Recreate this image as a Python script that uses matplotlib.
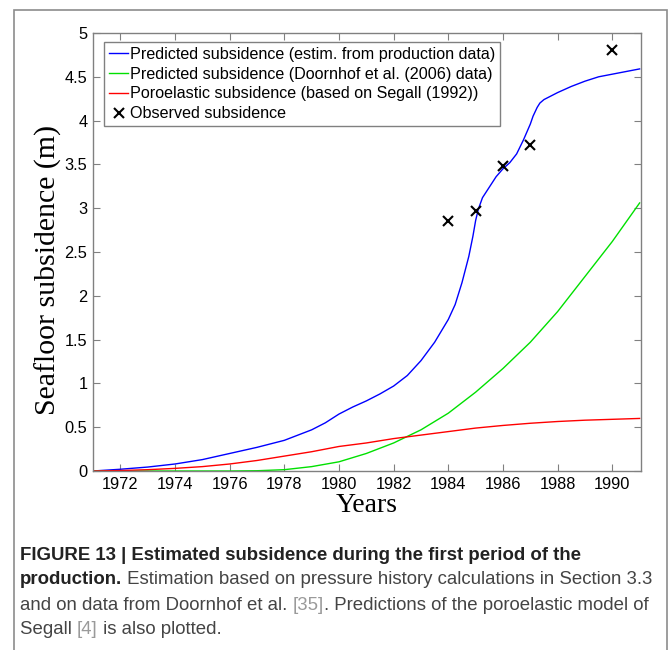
import matplotlib
matplotlib.use("Agg")
import matplotlib.pyplot as plt
from matplotlib.patches import Rectangle

# data
blue_years = [1971, 1972, 1973, 1974, 1975, 1976, 1977, 1978, 1979, 1979.5, 1980, 1980.5,
              1981, 1981.5, 1982, 1982.5, 1983, 1983.5, 1984, 1984.25, 1984.5, 1984.75,
              1984.9, 1985, 1985.1, 1985.25, 1985.5, 1985.75, 1986, 1986.25, 1986.5,
              1986.75, 1987, 1987.1, 1987.25, 1987.35, 1987.5, 1987.75, 1988, 1988.5,
              1989, 1989.5, 1990, 1990.5, 1991]
blue_vals = [0.0, 0.02, 0.045, 0.08, 0.13, 0.2, 0.27, 0.35, 0.47, 0.55, 0.65, 0.73,
             0.8, 0.88, 0.97, 1.09, 1.26, 1.47, 1.73, 1.9, 2.15, 2.45,
             2.68, 2.86, 2.99, 3.12, 3.24, 3.36, 3.45, 3.52, 3.62,
             3.78, 3.96, 4.05, 4.15, 4.2, 4.24, 4.28, 4.32, 4.39,
             4.45, 4.5, 4.53, 4.56, 4.59]

green_years = [1971, 1976, 1977, 1978, 1979, 1980, 1981, 1982, 1983, 1984, 1985,
               1986, 1987, 1988, 1989, 1990, 1991]
green_vals = [0.0, 0.0, 0.003, 0.015, 0.05, 0.105, 0.2, 0.32, 0.47, 0.66, 0.9,
              1.17, 1.47, 1.82, 2.22, 2.62, 3.06]

red_years = [1971, 1972, 1973, 1974, 1975, 1976, 1977, 1978, 1979, 1980, 1981,
             1982, 1983, 1984, 1985, 1986, 1987, 1988, 1989, 1990, 1991]
red_vals = [0.0, 0.005, 0.015, 0.03, 0.05, 0.08, 0.12, 0.17, 0.22, 0.28, 0.32,
            0.37, 0.41, 0.45, 0.49, 0.52, 0.545, 0.565, 0.58, 0.59, 0.60]

obs_years = [1984, 1985, 1986, 1987, 1990]
obs_vals = [2.85, 2.97, 3.48, 3.72, 4.81]

x_ticks = list(range(1972, 1991, 2))
y_ticks = [0, 0.5, 1, 1.5, 2, 2.5, 3, 3.5, 4, 4.5, 5]
y_ticklabels = ["0", "0.5", "1", "1.5", "2", "2.5", "3", "3.5", "4", "4.5", "5"]

labels = ["Predicted subsidence (estim. from production data)",
          "Predicted subsidence (Doornhof et al. (2006) data)",
          "Poroelastic subsidence (based on Segall (1992))",
          "Observed subsidence"]

caption = [
    [("FIGURE 13 | Estimated subsidence during the first period of the", "bold", "#222222")],
    [("production.", "bold", "#222222"),
     (" Estimation based on pressure history calculations in Section 3.3", "normal", "#444444")],
    [("and on data from Doornhof et al. ", "normal", "#444444"), ("[35]", "normal", "#9a9a9a"),
     (". Predictions of the poroelastic model of", "normal", "#444444")],
    [("Segall ", "normal", "#444444"), ("[4]", "normal", "#9a9a9a"),
     (" is also plotted.", "normal", "#444444")],
]

W, H = 670, 650
fig = plt.figure(figsize=(W / 100, H / 100), dpi=100)
fig.patches.append(Rectangle((14 / W, -0.1), (667 - 14) / W, 1.1 - 10 / H,
                             transform=fig.transFigure, fill=False,
                             edgecolor="#8c8c8c", linewidth=1.2))

ax = fig.add_axes([93 / W, 1 - 471 / H, (641 - 93) / W, (471 - 33) / H])
ax.plot(blue_years, blue_vals, color="#0000ff", lw=1.0, label=labels[0])
ax.plot(green_years, green_vals, color="#00e000", lw=1.0, label=labels[1])
ax.plot(red_years, red_vals, color="#ff0000", lw=1.0, label=labels[2])
ax.plot(obs_years, obs_vals, "x", color="black", ms=7, mew=1.5, label=labels[3])

ax.set_xlim(1971, 1991.05)
ax.set_ylim(0, 5)
ax.set_xticks(x_ticks)
ax.set_yticks(y_ticks)
ax.set_yticklabels(y_ticklabels)
for s in ax.spines.values():
    s.set_color("#808080")
    s.set_linewidth(1.0)
ax.tick_params(direction="in", length=5, color="#808080", top=True, right=True,
               labelsize=11.8, pad=4)
for t in ax.get_xticklabels() + ax.get_yticklabels():
    t.set_fontfamily("Liberation Sans")

ax.set_xlabel("Years", family="Liberation Serif", fontsize=20, labelpad=1)
ax.set_ylabel("Seafloor subsidence (m)", family="Liberation Serif", fontsize=21.5)
ax.yaxis.set_label_coords(-0.057, 0.459)

leg = ax.legend(loc="upper left", bbox_to_anchor=(11 / 548, 1 - 9 / 438), fancybox=False,
                edgecolor="#808080", framealpha=1, handlelength=1.2, handletextpad=0.1,
                borderpad=0.3, labelspacing=0.3, borderaxespad=0,
                prop={"family": "Liberation Sans", "size": 11.6})
leg.get_frame().set_linewidth(1.0)

fig.canvas.draw()
renderer = fig.canvas.get_renderer()
line_y = [555, 580, 605, 630]
for row, y in zip(caption, line_y):
    x = 20
    for txt, weight, col in row:
        t = fig.text(x / W, 1 - y / H, txt, fontsize=13.4, fontweight=weight, color=col,
                     family="Liberation Sans", va="center", ha="left")
        bb = t.get_window_extent(renderer)
        x += bb.width

fig.savefig("out.png", dpi=100)
